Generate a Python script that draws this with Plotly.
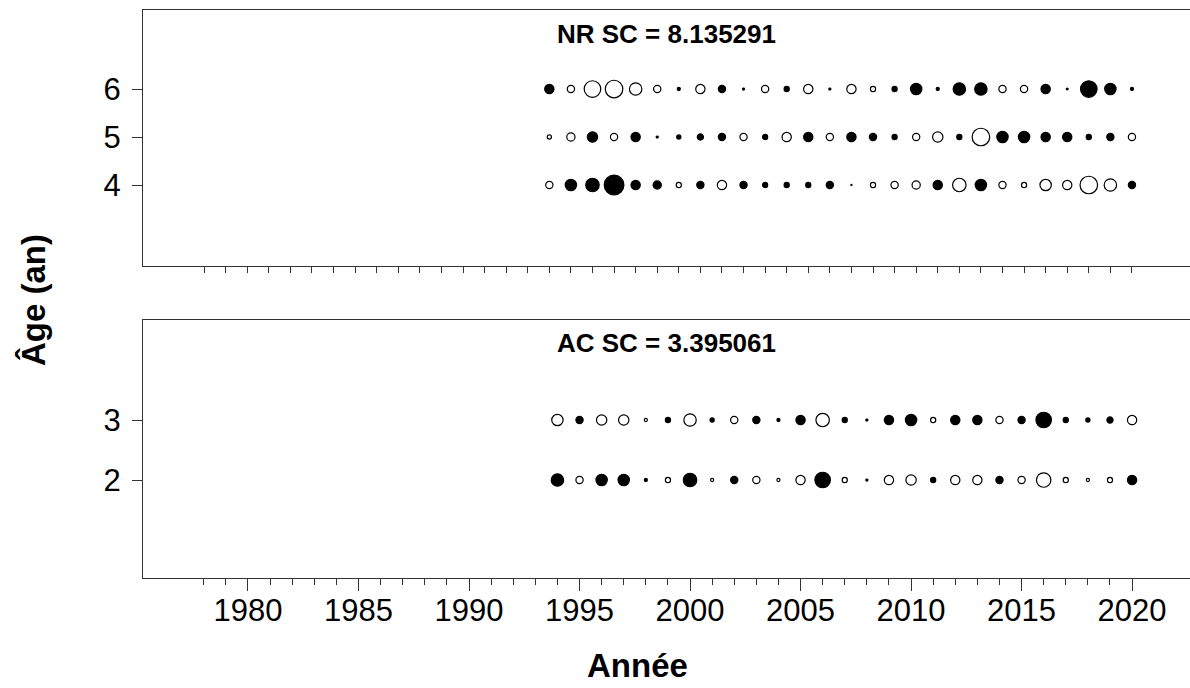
import plotly.graph_objects as go

# Residual bubbles by year and age (filled = positive, open = negative)
years_nr = list(range(1993, 2021))
ages_nr = [4, 5, 6]
res_nr_age4 = [-1.17, 1.83, 2.17, 3.17, 1.5, 1.33, -0.83, 1.17, -1.5, 1.17, 0.83, 0.83, 0.83, 1.17,
               0.17, -0.83, -1.17, -1.33, 1.5, -2.17, 1.83, -1.17, -0.83, -1.83, -1.5, -2.83, -2.0, 1.17]
res_nr_age5 = [-0.67, -1.33, 1.67, -1.17, 1.5, 0.33, 0.67, 1.0, 1.17, -1.17, 0.83, -1.5, 1.5, -1.17,
               1.5, 1.17, 0.83, -1.17, -1.67, 0.83, -2.83, 1.83, 1.83, 1.5, 1.5, 0.83, 1.17, -1.17]
res_nr_age6 = [1.5, -1.17, -2.67, -2.83, -2.0, -1.17, 0.5, -1.5, 1.17, 0.33, -1.17, 0.83, -1.5, 0.33,
               -1.5, -0.83, 0.83, 1.83, 0.5, 2.0, 2.0, -1.17, -1.17, 1.5, 0.3, 2.67, 1.83, 0.5]

years_ac = list(range(1994, 2021))
ages_ac = [2, 3]
res_ac_age2 = [2.0, -1.17, 1.83, 1.83, 0.5, -0.83, 2.17, -0.5, 1.17, -1.17, -0.5, -1.5, 2.5, -0.83,
               0.33, -1.5, -1.67, 0.83, -1.5, -1.5, 1.17, -1.17, -2.33, -0.83, -0.5, -0.83, 1.5]
res_ac_age3 = [-1.83, 1.17, -1.67, -1.67, -0.5, 0.83, -2.0, 0.67, -1.17, 1.17, 0.5, 1.5, -2.17, 0.83,
               0.33, 1.5, 1.83, -0.83, 1.5, 1.5, -1.17, 1.17, 2.5, 0.83, 0.67, 1.0, -1.5]

title_nr = "NR SC = 8.135291"
title_ac = "AC SC = 3.395061"
xticks_major = [1980, 1985, 1990, 1995, 2000, 2005, 2010, 2015, 2020]
xticks_minor_ac = list(range(1978, 2021))
xticks_nr = list(range(1977, 2021))

FONT = "Liberation Sans, Arial, sans-serif"
LINE = "#333333"
SIZEREF = 1 / 6.2

fig = go.Figure()


def add_bubbles(years, age, res, xa, ya):
    xs, ys, sz, fill = [], [], [], []
    for yr, r in zip(years, res):
        xs.append(yr)
        ys.append(age)
        sz.append(abs(r))
        fill.append("black" if r > 0 else "white")
    fig.add_trace(go.Scatter(
        x=xs, y=ys, mode="markers", xaxis=xa, yaxis=ya, showlegend=False, opacity=1,
        marker=dict(size=sz, sizemode="diameter", sizeref=SIZEREF, color=fill, opacity=1,
                    line=dict(color="black", width=1.2)),
    ))


for age, res in zip(ages_nr, [res_nr_age4, res_nr_age5, res_nr_age6]):
    add_bubbles(years_nr, age, res, "x2", "y2")
for age, res in zip(ages_ac, [res_ac_age2, res_ac_age3]):
    add_bubbles(years_ac, age, res, "x", "y")

W, H = 1190, 688
ML, MR, MT, MB = 143, 0, 10, 110
plot_h = H - MT - MB
top_panel_bottom = 266
bottom_panel_top = 320

d_bottom = [0, (H - MB - bottom_panel_top) / plot_h]
d_top = [(H - MB - top_panel_bottom) / plot_h, 1]

fig.update_layout(
    width=W, height=H,
    margin=dict(l=ML, r=MR, t=MT, b=MB, pad=0),
    plot_bgcolor="white", paper_bgcolor="white",
    font=dict(family=FONT, color="black"),
    xaxis=dict(
        domain=[0, 1], range=[1975.25, 2022.62], anchor="y",
        tickmode="array", tickvals=xticks_major, ticks="outside", ticklen=12,
        tickwidth=1, tickcolor=LINE, showline=True, linecolor=LINE, linewidth=1.2,
        mirror=True, showgrid=False, zeroline=False,
        tickfont=dict(size=31, family=FONT), ticklabelstandoff=-7,
        minor=dict(tickmode="array", tickvals=xticks_minor_ac, ticks="outside",
                   ticklen=6, tickcolor=LINE, tickwidth=1, showgrid=False),
    ),
    yaxis=dict(
        domain=d_bottom, range=[0.367, 4.667], anchor="x",
        tickmode="array", tickvals=ages_ac, ticks="outside", ticklen=10,
        tickcolor=LINE, tickwidth=1, showline=True, linecolor=LINE, linewidth=1.2,
        mirror=False, showgrid=False, zeroline=False,
        tickfont=dict(size=31, family=FONT), ticklabelstandoff=5,
    ),
    xaxis2=dict(
        domain=[0, 1], range=[1974.17, 2022.69], anchor="y2",
        tickmode="array", tickvals=xticks_nr, ticks="outside", ticklen=6,
        tickcolor=LINE, tickwidth=1, showticklabels=False,
        showline=True, linecolor=LINE, linewidth=1.2, mirror=True,
        showgrid=False, zeroline=False,
    ),
    yaxis2=dict(
        domain=d_top, range=[2.3125, 7.646], anchor="x2",
        tickmode="array", tickvals=ages_nr, ticks="outside", ticklen=10,
        tickcolor=LINE, tickwidth=1, showline=True, linecolor=LINE, linewidth=1.2,
        mirror=False, showgrid=False, zeroline=False,
        tickfont=dict(size=31, family=FONT), ticklabelstandoff=5,
    ),
)


def py(pixel_y):
    return (H - MB - pixel_y) / plot_h


def px(pixel_x):
    return (pixel_x - ML) / (W - ML - MR)


annotations = [
    dict(text=f"<b>{title_nr}</b>", x=px(666), y=py(34), size=26),
    dict(text=f"<b>{title_ac}</b>", x=px(666), y=py(343), size=26),
    dict(text="<b>Année</b>", x=px(637), y=py(665), size=33),
    dict(text="<b>Âge (an)</b>", x=px(33), y=py(300), size=33, textangle=-90),
]
for a in annotations:
    fig.add_annotation(
        xref="paper", yref="paper", showarrow=False, xanchor="center", yanchor="middle",
        text=a["text"], x=a["x"], y=a["y"], textangle=a.get("textangle", 0),
        font=dict(family=FONT, color="black", size=a["size"]),
    )

fig.write_html("out.html")
